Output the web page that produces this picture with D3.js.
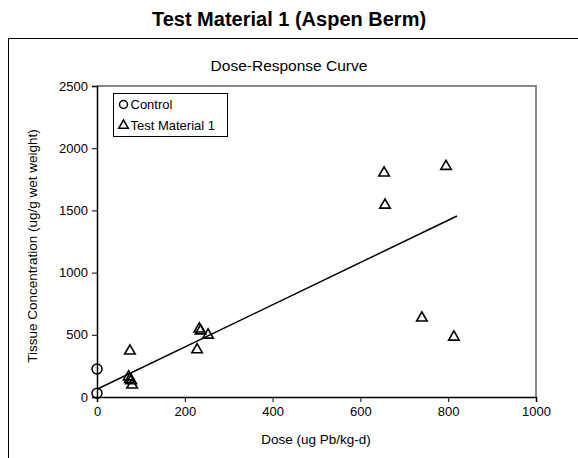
<!DOCTYPE html>
<html>
<head>
<meta charset="utf-8">
<script src="https://cdn.jsdelivr.net/npm/d3@7"></script>
<style>
  body { margin: 0; background: #fff; }
  text { font-family: "Liberation Sans", Arial, sans-serif; fill: #000; }
</style>
</head>
<body>
<div id="chart"></div>
<script>
// data
const controlDose = [0, 0];
const controlConc = [225, 30];

const testDose = [75, 72, 75, 78, 80, 228, 233, 236, 253, 654, 656, 795, 740, 813];
const testConc = [378, 170, 150, 140, 105, 388, 555, 540, 506, 1809, 1551, 1862, 643, 490];

// trendline end points
const trendDose = [0, 820];
const trendConc = [62, 1455];

const xTicks = [0, 200, 400, 600, 800, 1000];
const yTicks = [0, 500, 1000, 1500, 2000, 2500];

const width = 578, height = 458;
const margin = { top: 86, right: 42, bottom: 61, left: 97 };
const plotW = width - margin.left - margin.right;
const plotH = height - margin.top - margin.bottom;

const svg = d3.select("#chart")
  .append("svg")
  .attr("width", width)
  .attr("height", height);

// outer chart border (runs off right & bottom)
svg.append("rect")
  .attr("x", 8.5).attr("y", 38.5)
  .attr("width", 600).attr("height", 500)
  .attr("fill", "none")
  .attr("stroke", "#000")
  .attr("stroke-width", 1);

svg.append("text")
  .attr("x", 289).attr("y", 26)
  .attr("text-anchor", "middle")
  .style("font-size", "20px")
  .style("font-weight", "bold")
  .text("Test Material 1 (Aspen Berm)");

svg.append("text")
  .attr("x", 289).attr("y", 71)
  .attr("text-anchor", "middle")
  .style("font-size", "15.5px")
  .text("Dose-Response Curve");

const x = d3.scaleLinear().domain([0, 1000]).range([0, plotW]);
const y = d3.scaleLinear().domain([0, 2500]).range([plotH, 0]);

const g = svg.append("g")
  .attr("transform", `translate(${margin.left},${margin.top})`);

// gray top/right frame
g.append("path")
  .attr("d", `M0,0H${plotW}V${plotH}`)
  .attr("fill", "none")
  .attr("stroke", "#888")
  .attr("stroke-width", 2);

const xAxis = g.append("g")
  .attr("transform", `translate(0,${plotH})`)
  .call(d3.axisBottom(x).tickValues(xTicks).tickSize(5).tickPadding(5).tickFormat(d3.format("d")));

const yAxis = g.append("g")
  .call(d3.axisLeft(y).tickValues(yTicks).tickSize(5).tickPadding(4).tickFormat(d3.format("d")));

[xAxis, yAxis].forEach(a => {
  a.select(".domain").attr("stroke", "#000").attr("stroke-width", 1.5);
  a.selectAll(".tick line").attr("stroke", "#000");
  a.selectAll(".tick text")
    .style("font-family", '"Liberation Sans", Arial, sans-serif')
    .style("font-size", "13px")
    .attr("fill", "#000");
});

svg.append("text")
  .attr("x", 316).attr("y", 444)
  .attr("text-anchor", "middle")
  .style("font-size", "13.5px")
  .text("Dose (ug Pb/kg-d)");

svg.append("text")
  .attr("transform", "translate(37,246) rotate(-90)")
  .attr("text-anchor", "middle")
  .style("font-size", "13.5px")
  .text("Tissue Concentration (ug/g wet weight)");

// trendline
const line = d3.line().x(d => x(d[0])).y(d => y(d[1]));
g.append("path")
  .datum(d3.zip(trendDose, trendConc))
  .attr("d", line)
  .attr("fill", "none")
  .attr("stroke", "#000")
  .attr("stroke-width", 1.5);

const triangle = d3.symbol().type(d3.symbolTriangle).size(48);

g.selectAll(".ctrl")
  .data(d3.zip(controlDose, controlConc))
  .enter()
  .append("circle")
  .attr("class", "ctrl")
  .attr("cx", d => x(d[0]))
  .attr("cy", d => y(d[1]))
  .attr("r", 5)
  .attr("fill", "none")
  .attr("stroke", "#000")
  .attr("stroke-width", 1.5);

g.selectAll(".test")
  .data(d3.zip(testDose, testConc))
  .enter()
  .append("path")
  .attr("class", "test")
  .attr("d", triangle)
  .attr("transform", d => `translate(${x(d[0])},${y(d[1]) + 1})`)
  .attr("fill", "none")
  .attr("stroke", "#000")
  .attr("stroke-width", 1.6);

// legend
const leg = svg.append("g").attr("transform", "translate(113.5,93.5)");
leg.append("rect")
  .attr("width", 114).attr("height", 43)
  .attr("fill", "#fff")
  .attr("stroke", "#000")
  .attr("stroke-width", 1);
leg.append("circle")
  .attr("cx", 10).attr("cy", 11).attr("r", 4)
  .attr("fill", "none").attr("stroke", "#000").attr("stroke-width", 1.5);
leg.append("text")
  .attr("x", 17).attr("y", 15.5)
  .style("font-size", "13px")
  .text("Control");
leg.append("path")
  .attr("d", d3.symbol().type(d3.symbolTriangle).size(40))
  .attr("transform", "translate(10,32)")
  .attr("fill", "none").attr("stroke", "#000").attr("stroke-width", 1.5);
leg.append("text")
  .attr("x", 17).attr("y", 36.5)
  .style("font-size", "13px")
  .text("Test Material 1");
</script>
</body>
</html>
